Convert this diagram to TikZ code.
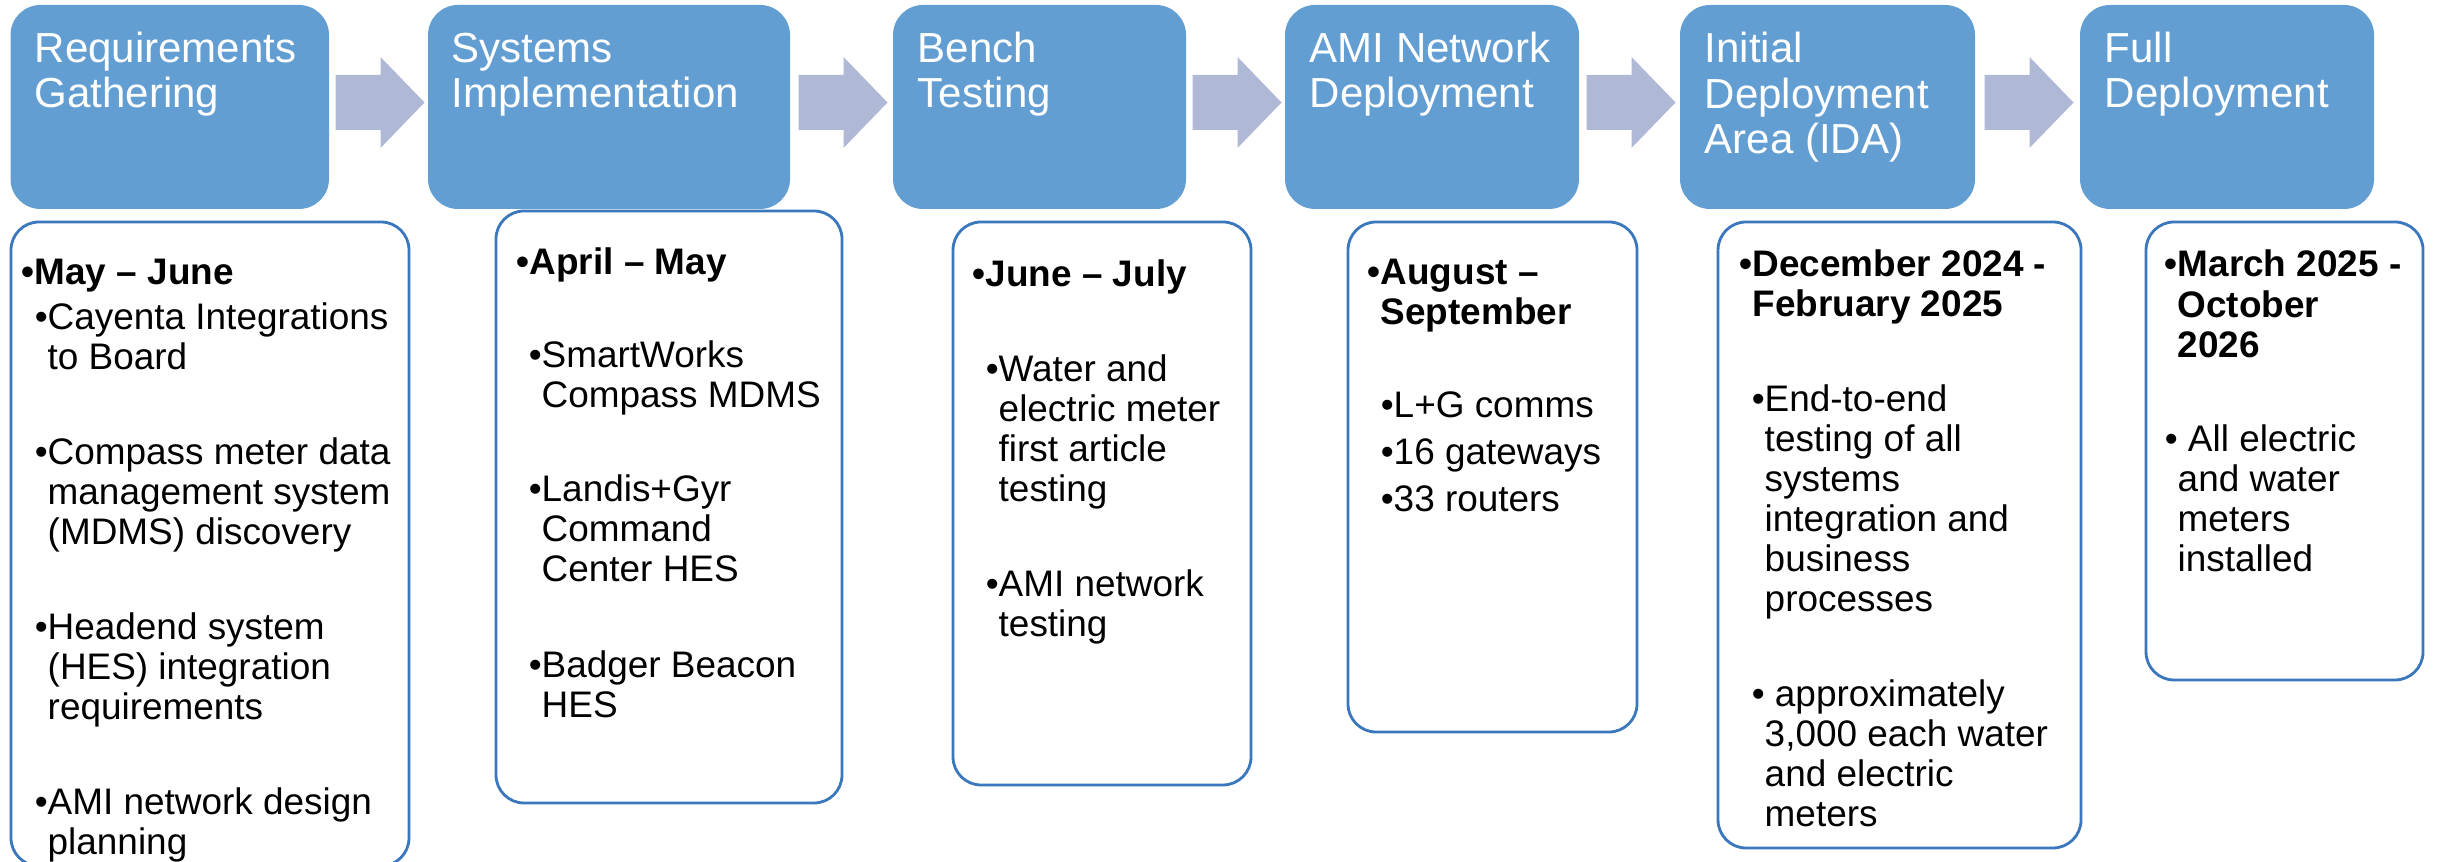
\documentclass[tikz,border=0pt]{standalone}
\usepackage{fontspec}
\setmainfont{Liberation Sans}
\usetikzlibrary{calc}

\definecolor{hdrblue}{RGB}{99,158,210}
\definecolor{arrowgray}{RGB}{175,184,213}
\definecolor{frameblue}{RGB}{58,119,188}

\newcommand\hdrfont{\fontsize{11.95}{13}\selectfont}
\newcommand\bodyfont{\fontsize{10.5}{11.5}\selectfont}

% rectangle node given by its corners (pixel units)
\newcommand\panel[6]{%
  \node[#2, minimum width={(#5-#3)*0.01cm}, minimum height={(#6-#4)*0.01cm}]
    (#1) at ({(#3+#5)/2},{(#4+#6)/2}) {};}

% lines of text, one node per line: name, x, first baseline, step, style, lines
\newcommand\txtlines[6]{%
  \foreach \l [count=\k] in {#6}
    \node[#5] (#1-\k) at (#2,{#3+(\k-1)*#4}) {\l};}

% block arrow between two phase nodes
\newcommand\flowarrow[2]{%
  \coordinate (#1to#2) at ($(#1.east)!0.5!(#2.west)+(1.5,-4.5)$);
  \fill[flow] ($(#1to#2)+(-44.5,-27.5)$) -- ++(45,0) -- ++(0,-18)
    -- ($(#1to#2)+(44.5,0)$) -- ($(#1to#2)+(0.5,45.5)$) -- ++(0,-18)
    -- ($(#1to#2)+(-44.5,27.5)$) -- cycle;}

\begin{document}
\begin{tikzpicture}[x=0.01cm,y=-0.01cm,
  phase/.style={fill=hdrblue, rounded corners=0.3cm, inner sep=0pt, outer sep=0pt},
  detail/.style={draw=frameblue, line width=0.8pt, fill=white, rounded corners=0.28cm,
                 inner sep=0pt, outer sep=0pt},
  head/.style={text=white, font=\hdrfont, inner sep=0pt, anchor=base west},
  body/.style={text=black, font=\bodyfont, inner sep=0pt, anchor=base west},
  bodyb/.style={body, font=\bodyfont\bfseries},
  flow/.style={fill=arrowgray}]

\useasboundingbox (0,0) rectangle (2440,862);

% phase headers
\panel{h1}{phase}{10.5}{5}{329}{209}
\panel{h2}{phase}{428}{5}{790}{209}
\panel{h3}{phase}{893}{5}{1186}{209}
\panel{h4}{phase}{1285}{5}{1579}{209}
\panel{h5}{phase}{1680}{5}{1975}{209}
\panel{h6}{phase}{2080}{5}{2374}{209}

\txtlines{h1t}{34}{63}{45}{head}{{Requirements},{Gathering}}
\txtlines{h2t}{451}{63}{45}{head}{{Systems},{Implementation}}
\txtlines{h3t}{917}{63}{45}{head}{{Bench},{Testing}}
\txtlines{h4t}{1309}{63}{45}{head}{{AMI Network},{Deployment}}
\txtlines{h5t}{1704}{63}{45.5}{head}{{Initial},{Deployment},{Area (IDA)}}
\txtlines{h6t}{2104}{63}{45}{head}{{Full},{Deployment}}

% arrows between phases
\flowarrow{h1}{h2}
\flowarrow{h2}{h3}
\flowarrow{h3}{h4}
\flowarrow{h4}{h5}
\flowarrow{h5}{h6}

% detail panels
\panel{d1}{detail}{11}{222}{409}{866}
\panel{d2}{detail}{496}{211}{842}{803}
\panel{d3}{detail}{953}{222}{1251}{785}
\panel{d4}{detail}{1348}{222}{1637}{732}
\panel{d5}{detail}{1718}{222}{2081}{848}
\panel{d6}{detail}{2146}{222}{2423}{680}

% Requirements Gathering
\txtlines{d1a}{34}{285}{40}{bodyb}{{\llap{•}May – June}}
\txtlines{d1b}{47}{330}{40}{body}{{\llap{•}Cayenta Integrations},{to Board}}
\txtlines{d1c}{47}{465}{40}{body}{{\llap{•}Compass meter data},{management system},{(MDMS) discovery}}
\txtlines{d1d}{47}{640}{40}{body}{{\llap{•}Headend system},{(HES) integration},{requirements}}
\txtlines{d1e}{47}{815}{40}{body}{{\llap{•}AMI network design},{planning}}

% Systems Implementation
\txtlines{d2a}{529}{275}{40}{bodyb}{{\llap{•}April – May}}
\txtlines{d2b}{541}{368}{40}{body}{{\llap{•}SmartWorks},{Compass MDMS}}
\txtlines{d2c}{541}{502}{40}{body}{{\llap{•}Landis+Gyr},{Command},{Center HES}}
\txtlines{d2d}{541}{678}{40}{body}{{\llap{•}Badger Beacon},{HES}}

% Bench Testing
\txtlines{d3a}{985}{287}{40}{bodyb}{{\llap{•}June – July}}
\txtlines{d3b}{998}{382}{40}{body}{{\llap{•}Water and},{electric meter},{first article},{testing}}
\txtlines{d3c}{998}{597}{40}{body}{{\llap{•}AMI network},{testing}}

% AMI Network Deployment
\txtlines{d4a}{1380}{285}{39.5}{bodyb}{{\llap{•}August –},{September}}
\txtlines{d4b}{1393}{418}{47}{body}{{\llap{•}L+G comms},{\llap{•}16 gateways},{\llap{•}33 routers}}

% Initial Deployment Area
\txtlines{d5a}{1752}{277}{40}{bodyb}{{\llap{•}December 2024 -},{February 2025}}
\txtlines{d5b}{1764}{412}{40}{body}{{\llap{•}End-to-end},{testing of all},{systems},{integration and},{business},{processes}}
\txtlines{d5c}{1764}{707}{40}{body}{{\llap{•}\ approximately},{3,000 each water},{and electric},{meters}}

% Full Deployment
\txtlines{d6a}{2177}{277}{40.5}{bodyb}{{\llap{•}March 2025 -},{October},{2026}}
\txtlines{d6b}{2177}{452}{40}{body}{{\llap{•}\ All electric},{and water},{meters},{installed}}

\end{tikzpicture}
\end{document}
